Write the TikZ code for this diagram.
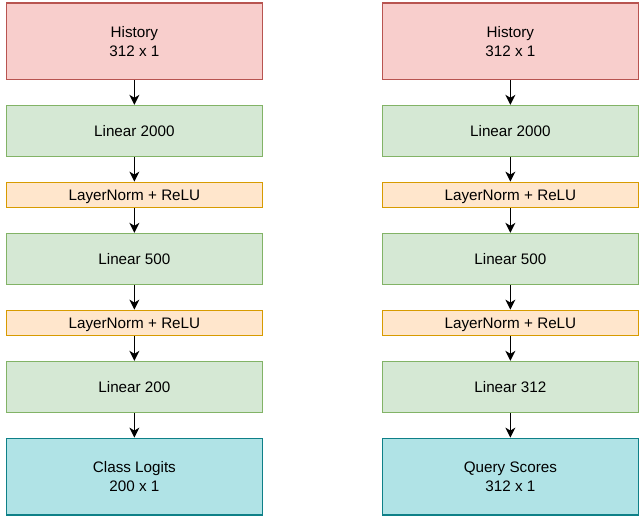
\documentclass[tikz,border=0pt]{standalone}
\usepackage{fontspec}
\setmainfont{Liberation Sans}
\usetikzlibrary{arrows.meta}

\definecolor{histfill}{HTML}{F8CECC}
\definecolor{histline}{HTML}{B85450}
\definecolor{linfill}{HTML}{D5E8D4}
\definecolor{linline}{HTML}{82B366}
\definecolor{normfill}{HTML}{FFE6CC}
\definecolor{normline}{HTML}{D79B00}
\definecolor{outfill}{HTML}{B0E3E6}
\definecolor{outline}{HTML}{0E8088}

\tikzset{
  box/.style={align=center, minimum width=7.68cm, inner sep=0pt, line width=1pt},
  inbox/.style={box, draw=histline, fill=histfill, minimum height=2.304cm},
  linbox/.style={box, draw=linline, fill=linfill, minimum height=1.536cm},
  normbox/.style={box, draw=normline, fill=normfill, minimum height=0.768cm, text depth=0pt},
  outbox/.style={box, draw=outline, fill=outfill, minimum height=2.304cm},
  flow/.style={-{Stealth[length=8.5pt, width=8.5pt, inset=2.5pt]}, line width=1.2pt}
}

\begin{document}
\begin{tikzpicture}[x=0.03cm, y=-0.03cm, font=\fontsize{13}{15.7}\selectfont]
\useasboundingbox (0,0) rectangle (639,516);

% Left network
\node[inbox] (hist) at (134.4, 41.4) {History\\312 x 1};
\node[linbox] (lin2000) at (134.4, 131) {Linear 2000};
\node[normbox] (norm1) at (134.4, 195) {LayerNorm + ReLU};
\node[linbox] (lin500) at (134.4, 259) {Linear 500};
\node[normbox] (norm2) at (134.4, 323) {LayerNorm + ReLU};
\node[linbox] (lin200) at (134.4, 387) {Linear 200};
\node[outbox] (logits) at (134.4, 476.6) {Class Logits\\200 x 1};

% Right network
\node[inbox] (histR) at (510.4, 41.4) {History\\312 x 1};
\node[linbox] (lin2000R) at (510.4, 131) {Linear 2000};
\node[normbox] (norm1R) at (510.4, 195) {LayerNorm + ReLU};
\node[linbox] (lin500R) at (510.4, 259) {Linear 500};
\node[normbox] (norm2R) at (510.4, 323) {LayerNorm + ReLU};
\node[linbox] (lin312R) at (510.4, 387) {Linear 312};
\node[outbox] (scoresR) at (510.4, 476.6) {Query Scores\\312 x 1};

% Arrows
\draw[flow] (hist) -- (lin2000);
\draw[flow] (lin2000) -- (norm1);
\draw[flow] (norm1) -- (lin500);
\draw[flow] (lin500) -- (norm2);
\draw[flow] (norm2) -- (lin200);
\draw[flow] (lin200) -- (logits);
\draw[flow] (histR) -- (lin2000R);
\draw[flow] (lin2000R) -- (norm1R);
\draw[flow] (norm1R) -- (lin500R);
\draw[flow] (lin500R) -- (norm2R);
\draw[flow] (norm2R) -- (lin312R);
\draw[flow] (lin312R) -- (scoresR);
\end{tikzpicture}
\end{document}
